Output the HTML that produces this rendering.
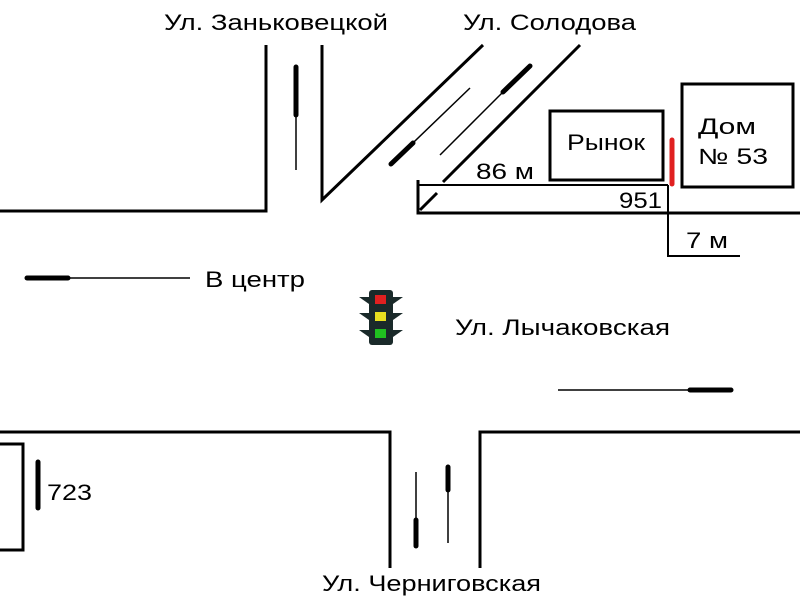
<!DOCTYPE html>
<html><head><meta charset="utf-8"><style>
body{margin:0;background:#fff;}
svg{display:block;}
text{font-family:"Liberation Sans","DejaVu Sans",sans-serif;font-size:22px;fill:#000;}
</style></head><body>
<svg width="800" height="600" viewBox="0 0 800 600">
<g stroke="#000" stroke-width="3" fill="none">
<polyline points="0,211 266,211 266,45"/>
<polyline points="322,45 322,200 483,45"/>
<line x1="443" y1="182" x2="580" y2="45"/>
<line x1="420" y1="210" x2="437" y2="193"/>
<polyline points="418,180 418,213 800,213"/>
<polyline points="668,185 668,256 740,256" stroke-width="2"/>
<line x1="418" y1="185" x2="668" y2="185" stroke-width="2"/>
<rect x="550" y="111" width="113" height="69"/>
<rect x="682" y="84" width="111" height="103"/>
<polyline points="0,432 390,432 390,568"/>
<polyline points="800,432 480,432 480,568"/>
<polyline points="0,444 23,444 23,550 0,550"/>
</g>
<g stroke="#000" stroke-width="1.5">
<line x1="296" y1="65" x2="296" y2="170"/>
<line x1="390" y1="165" x2="470" y2="88"/>
<line x1="440" y1="155" x2="530" y2="65"/>
<line x1="25" y1="278" x2="190" y2="278"/>
<line x1="558" y1="390" x2="733" y2="390"/>
<line x1="416" y1="472" x2="416" y2="548"/>
<line x1="448" y1="465" x2="448" y2="543"/>
</g>
<g stroke="#000" stroke-width="5" stroke-linecap="round">
<line x1="296" y1="67" x2="296" y2="115"/>
<line x1="391" y1="164" x2="413" y2="143"/>
<line x1="503" y1="92" x2="530" y2="66"/>
<line x1="27" y1="278" x2="68" y2="278"/>
<line x1="690" y1="390" x2="731" y2="390"/>
<line x1="416" y1="520" x2="416" y2="546"/>
<line x1="448" y1="467" x2="448" y2="490"/>
<line x1="38" y1="462" x2="38" y2="508"/>
</g>
<line x1="672" y1="140" x2="672" y2="184" stroke="#e02020" stroke-width="5" stroke-linecap="round"/>
<g>
<rect x="369" y="290" width="24" height="55" rx="3" fill="#1a2a2a"/>
<polygon points="359,297 369,297 369,304" fill="#1a2a2a"/><polygon points="403,297 393,297 393,304" fill="#1a2a2a"/>
<polygon points="359,313 369,313 369,320" fill="#1a2a2a"/><polygon points="403,313 393,313 393,320" fill="#1a2a2a"/>
<polygon points="359,330 369,330 369,337" fill="#1a2a2a"/><polygon points="403,330 393,330 393,337" fill="#1a2a2a"/>
<rect x="375" y="295" width="11" height="9" fill="#e02020"/>
<rect x="375" y="312" width="11" height="9" fill="#e8e020"/>
<rect x="375" y="329" width="11" height="9" fill="#20c020"/>
</g>
<text x="164" y="30" textLength="224" lengthAdjust="spacingAndGlyphs">Ул. Заньковецкой</text>
<text x="463" y="30" textLength="173" lengthAdjust="spacingAndGlyphs">Ул. Солодова</text>
<text x="567" y="150" textLength="78" lengthAdjust="spacingAndGlyphs">Рынок</text>
<text x="698" y="134" textLength="58" lengthAdjust="spacingAndGlyphs">Дом</text>
<text x="698" y="164" textLength="70" lengthAdjust="spacingAndGlyphs">№ 53</text>
<text x="476" y="179" textLength="58" lengthAdjust="spacingAndGlyphs">86 м</text>
<text x="619" y="208" textLength="43" lengthAdjust="spacingAndGlyphs">951</text>
<text x="686" y="248" textLength="42" lengthAdjust="spacingAndGlyphs">7 м</text>
<text x="205" y="287" textLength="100" lengthAdjust="spacingAndGlyphs">В центр</text>
<text x="455" y="335" textLength="215" lengthAdjust="spacingAndGlyphs">Ул. Лычаковская</text>
<text x="47" y="500" textLength="45" lengthAdjust="spacingAndGlyphs">723</text>
<text x="322" y="591" textLength="219" lengthAdjust="spacingAndGlyphs">Ул. Черниговская</text>
</svg>
</body></html>
